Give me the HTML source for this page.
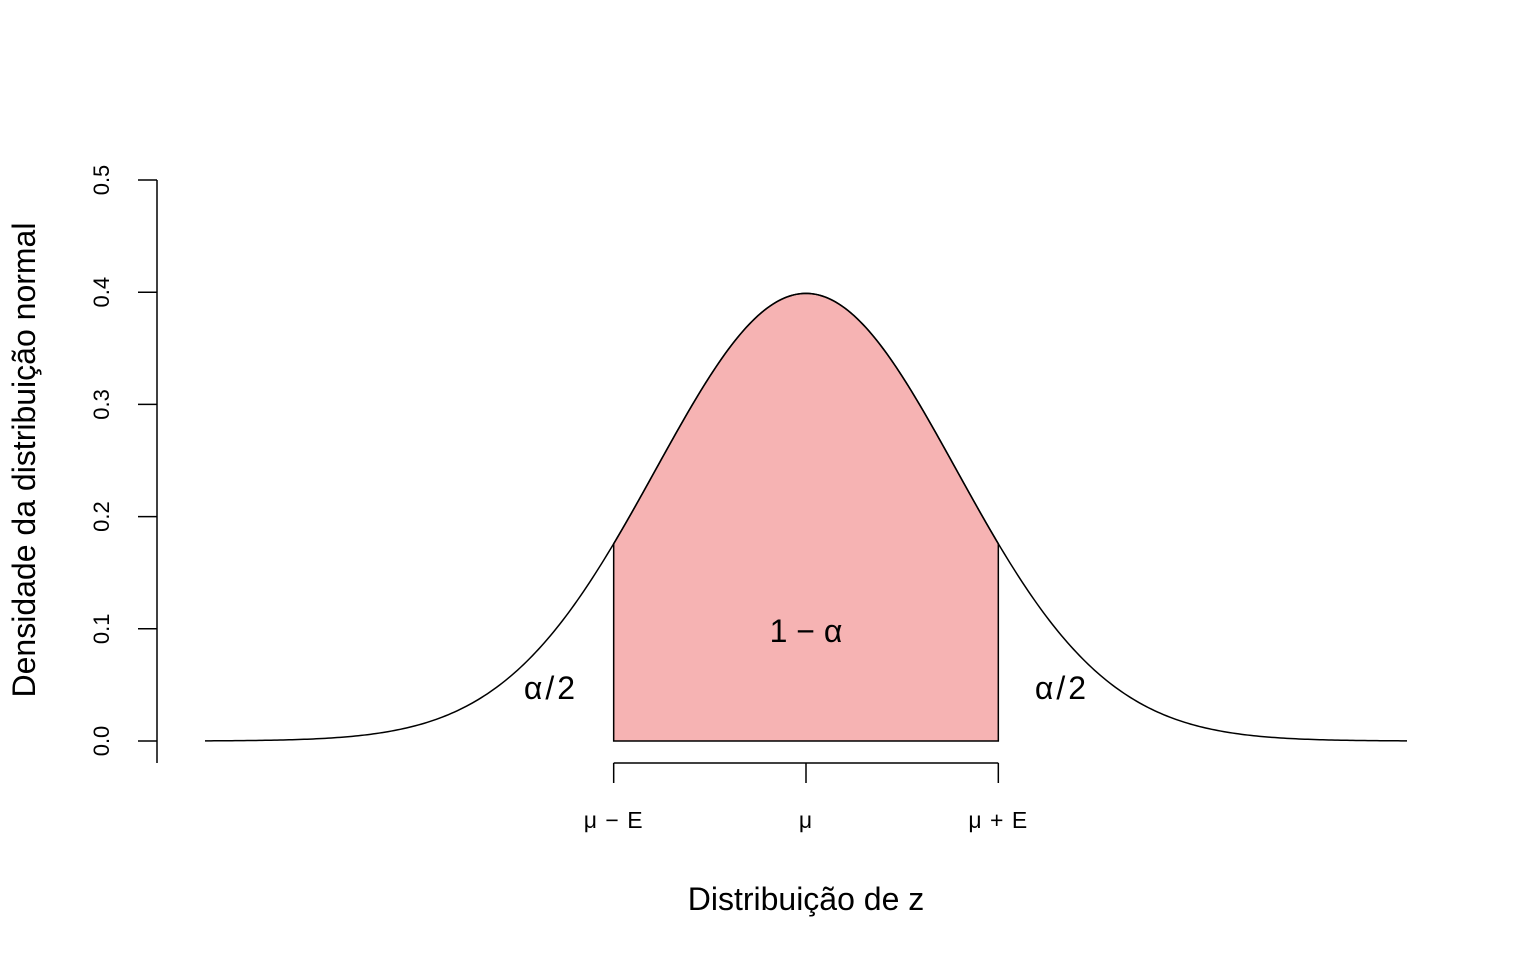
<!DOCTYPE html>
<html><head><meta charset="utf-8">
<style>
html,body{margin:0;padding:0;background:#fff;}
svg text{font-family:"Liberation Sans",Arial,sans-serif;fill:#000;}
</style></head>
<body>
<svg id="chart" width="1536" height="960" viewBox="0 0 1536 960" xmlns="http://www.w3.org/2000/svg">
</svg>
<script>
const yTicks = [0.0, 0.1, 0.2, 0.3, 0.4, 0.5];
const yTickLabels = ["0.0", "0.1", "0.2", "0.3", "0.4", "0.5"];
const xTicks = [-1.28, 0, 1.28];
const xTickLabels = ["μ − E", "μ", "μ + E"];
const zRange = [-4, 4];
const zCrit = [-1.28, 1.28];

const NS = "http://www.w3.org/2000/svg";
const svg = document.getElementById('chart');
const xs = z => 806 + z * 150.25;
const ys = v => 741 - v * 1122;
const dnorm = z => Math.exp(-z*z/2) / Math.sqrt(2*Math.PI);

function mk(tag, attrs, parent) {
  const el = document.createElementNS(NS, tag);
  for (const k in attrs) el.setAttribute(k, attrs[k]);
  (parent || svg).appendChild(el);
  return el;
}

let d = `M${xs(zCrit[0])},${ys(0)}`;
for (let i = 0; i <= 200; i++) {
  const z = zCrit[0] + (zCrit[1]-zCrit[0]) * i / 200;
  d += ` L${xs(z).toFixed(2)},${ys(dnorm(z)).toFixed(2)}`;
}
d += ` L${xs(zCrit[1])},${ys(0)} Z`;
const area = mk('path', {d: d, fill: '#f6b3b3', stroke: '#000', 'stroke-width': 1.5});



let c = '';
for (let i = 0; i <= 400; i++) {
  const z = zRange[0] + (zRange[1]-zRange[0]) * i / 400;
  c += (i ? ' L' : 'M') + xs(z).toFixed(2) + ',' + ys(dnorm(z)).toFixed(2);
}
const curve = mk('path', {d: c, fill: 'none', stroke: '#000', 'stroke-width': 1.5});



const yAxis = mk('g', {});


mk('line', {x1: 157, x2: 157, y1: ys(yTicks[yTicks.length-1]), y2: 763, stroke: '#000', 'stroke-width': 1.5}, yAxis);
yTicks.forEach((v, i) => {
  mk('line', {x1: 138, x2: 157, y1: ys(v), y2: ys(v), stroke: '#000', 'stroke-width': 1.5}, yAxis);
  const t = mk('text', {x: 0, y: 0, 'font-size': 22, 'text-anchor': 'middle',
    transform: `translate(109,${ys(v)}) rotate(-90)`}, yAxis);
  
  
  t.textContent = yTickLabels[i];
});

const xAxis = mk('g', {});


mk('line', {x1: xs(xTicks[0]), x2: xs(xTicks[xTicks.length-1]), y1: 763, y2: 763, stroke: '#000', 'stroke-width': 1.5}, xAxis);
xTicks.forEach((z, i) => {
  mk('line', {x1: xs(z), x2: xs(z), y1: 763, y2: 783, stroke: '#000', 'stroke-width': 1.5}, xAxis);
  const t = mk('text', {x: xs(z), y: 828, 'font-size': 23, 'text-anchor': 'middle', 'letter-spacing': 1}, xAxis);
  
  
  t.textContent = xTickLabels[i];
});

function label(x, y, txt, name, ls) {
  const t = mk('text', {x: x, y: y, 'font-size': 32, 'text-anchor': 'middle', 'letter-spacing': ls});
  
  
  t.textContent = txt;
}
label(806, 642, '1 − α', 'center-area-label', 0);
label(551, 699, 'α/2', 'left-tail-label', 3);
label(1062, 699, 'α/2', 'right-tail-label', 3);

const xt = mk('text', {x: 806, y: 910, 'font-size': 32, 'text-anchor': 'middle'});


xt.textContent = 'Distribuição de z';
const yt = mk('text', {x: 0, y: 0, 'font-size': 32, 'text-anchor': 'middle', transform: 'translate(35,460) rotate(-90)'});


yt.textContent = 'Densidade da distribuição normal';
</script>
</body></html>
